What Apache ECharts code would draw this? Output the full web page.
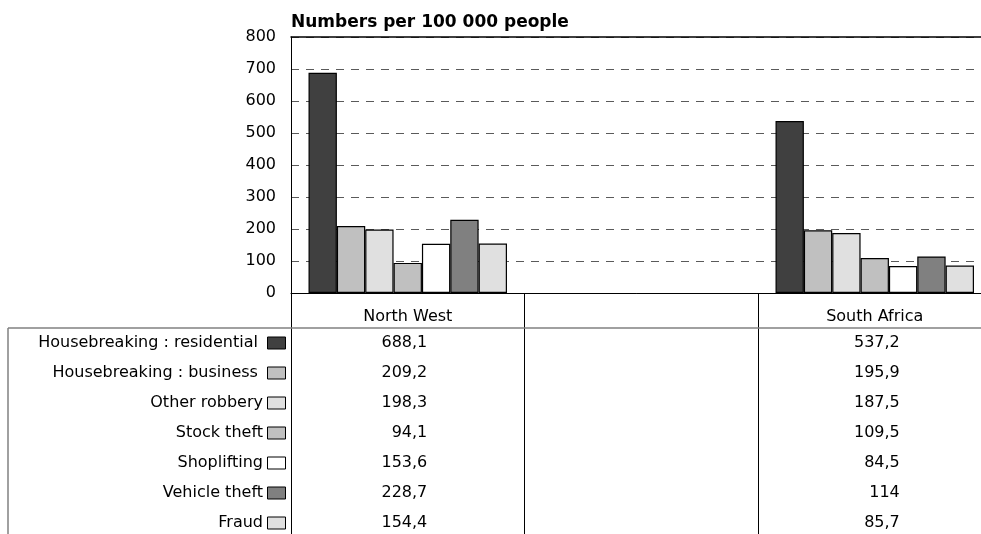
<!DOCTYPE html>
<html><head><meta charset="utf-8">
<script src="https://cdn.jsdelivr.net/npm/echarts@6/dist/echarts.min.js"></script>
<style>html,body{margin:0;padding:0;background:#fff}#c{width:981px;height:534px}</style>
</head><body><div id="c"></div>
<script>
const categories = ['North West', '', 'South Africa'];
const seriesNames = ['Housebreaking : residential ', 'Housebreaking : business ', 'Other robbery', 'Stock theft', 'Shoplifting', 'Vehicle theft', 'Fraud'];
const northWest = [688.1, 209.2, 198.3, 94.1, 153.6, 228.7, 154.4];
const southAfrica = [537.2, 195.9, 187.5, 109.5, 84.5, 114, 85.7];
const seriesColors = ['#404040', '#c0c0c0', '#e0e0e0', '#c0c0c0', '#ffffff', '#808080', '#e0e0e0'];
const yMin = 0, yMax = 800, yStep = 100;
const titleText = 'Numbers per 100 000 people';

const FONT = 'DejaVu Sans';
const fmt = v => String(v).replace('.', ',');

const chart = echarts.init(document.getElementById('c'), null, {renderer: 'canvas'});

const series = seriesNames.map((name, i) => ({
  name: name.trim(),
  type: 'bar',
  data: [northWest[i], null, southAfrica[i]],
  barGap: '0%',
  barCategoryGap: '15%',
  itemStyle: {color: seriesColors[i], borderColor: '#000', borderWidth: 1.2},
  emphasis: {disabled: true},
  animation: false
}));

chart.setOption({
  animation: false,
  backgroundColor: '#fff',
  title: {
    text: titleText, left: 291, top: 14, padding: 0,
    textStyle: {fontFamily: FONT, fontSize: 17, fontWeight: 'bold', color: '#000'}
  },
  grid: {left: 291, top: 37, width: 700.5, bottom: 241, containLabel: false, outerBoundsMode: 'none'},
  xAxis: [{
    type: 'category', data: categories, position: 'bottom',
    axisLine: {show: true, lineStyle: {color: '#000', width: 1}},
    axisTick: {show: true, length: 245, lineStyle: {color: '#000', width: 1}},
    axisLabel: {show: true, interval: 0, margin: 24, verticalAlign: 'middle', fontFamily: FONT, fontSize: 16, color: '#000'},
    splitLine: {show: false}
  }, {
    type: 'category', data: categories, position: 'top',
    axisLine: {show: true, lineStyle: {color: '#000', width: 1.5}},
    axisTick: {show: false}, axisLabel: {show: false}, splitLine: {show: false}
  }],
  yAxis: {
    type: 'value', min: yMin, max: yMax, interval: yStep,
    axisLine: {show: true, lineStyle: {color: '#000', width: 1}},
    axisTick: {show: false},
    axisLabel: {margin: 15, fontFamily: FONT, fontSize: 16, color: '#000'},
    splitLine: {show: true, lineStyle: {color: '#5a5a5a', width: 1, type: [8, 7]}}
  },
  series: series
});

// data table below the chart
const rowTop = 343, rowStep = 30;
const graphics = [];
graphics.push({type: 'line', shape: {x1: 8, y1: 328, x2: 981, y2: 328}, style: {stroke: '#808080', lineWidth: 1.5}, z: 100});
graphics.push({type: 'line', shape: {x1: 8, y1: 328, x2: 8, y2: 534}, style: {stroke: '#808080', lineWidth: 1.5}, z: 100});
const colNW = chart.convertToPixel({xAxisIndex: 0}, 0);
const colSA = chart.convertToPixel({xAxisIndex: 0}, 2);
const font = '16px "' + FONT + '"';
seriesNames.forEach((name, i) => {
  const y = rowTop + i * rowStep;
  graphics.push({type: 'text', x: 263, y: y, style: {text: name, align: 'right', verticalAlign: 'middle', font: font, fill: '#000'}, z: 100});
  graphics.push({type: 'rect', shape: {x: 267.5, y: y - 6, width: 18, height: 12}, style: {fill: seriesColors[i], stroke: '#000', lineWidth: 1}, z: 100});
  graphics.push({type: 'text', x: colNW + 19.5, y: y, style: {text: fmt(northWest[i]), align: 'right', verticalAlign: 'middle', font: font, fill: '#000'}, z: 100});
  graphics.push({type: 'text', x: colSA + 25, y: y, style: {text: fmt(southAfrica[i]), align: 'right', verticalAlign: 'middle', font: font, fill: '#000'}, z: 100});
});
chart.setOption({graphic: graphics});
</script></body></html>
